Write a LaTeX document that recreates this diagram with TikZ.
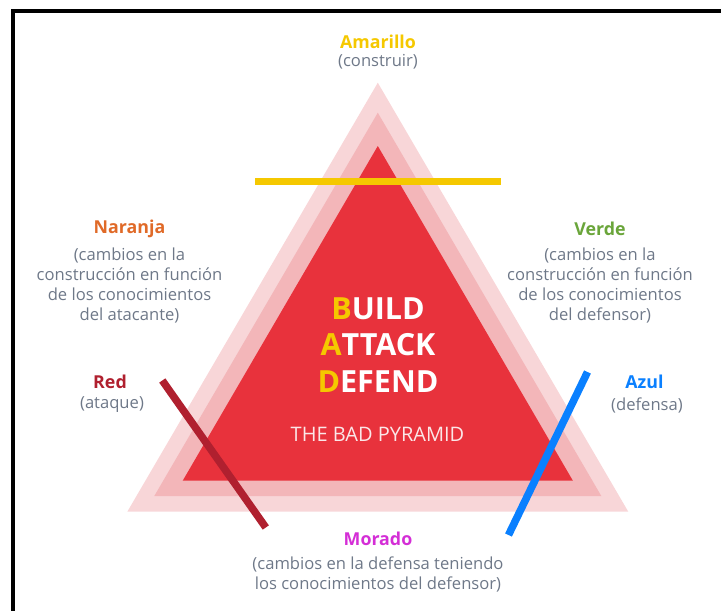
\documentclass[tikz,border=0pt]{standalone}
\usepackage{fontspec}
\setmainfont{Open Sans}
\usetikzlibrary{positioning}

\definecolor{pinkOuter}{HTML}{F8D6D8}
\definecolor{pinkMiddle}{HTML}{F3B6B9}
\definecolor{redInner}{HTML}{E8323C}
\definecolor{noteGray}{HTML}{6E7888}
\definecolor{amarilloCol}{HTML}{F5C800}
\definecolor{naranjaCol}{HTML}{E06A28}
\definecolor{verdeCol}{HTML}{6AA53A}
\definecolor{redCol}{HTML}{B0202F}
\definecolor{azulCol}{HTML}{0A80FF}
\definecolor{moradoCol}{HTML}{D42ED6}

\begin{document}
\begin{tikzpicture}[
        x=1pt, y=-1pt,
        head_style/.style={font=\fontsize{17.8}{20}\selectfont\bfseries},
        note_style/.style={text=noteGray, align=center, font=\fontsize{16.6}{20}\selectfont},
        bad_style/.style={text=white, align=center, font=\fontsize{30.5}{36.7}\selectfont\bfseries},
        bar_style/.style={line width=7.5pt}
    ]
        \useasboundingbox (0,0) rectangle (721,611);

        % Frame
        \draw[line width=4pt] (12.8,611) -- (12.8,10.5) -- (721,10.5);

        % Coordinates
        \coordinate (o_top) at (377.8,82.7);
        \coordinate (o_left) at (127.3,511.7);
        \coordinate (o_right) at (628.3,511.7);
        \coordinate (m_top) at (377.8,112.7);
        \coordinate (m_left) at (154.3,496);
        \coordinate (m_right) at (601.3,496);
        \coordinate (i_top) at (377.8,146);
        \coordinate (i_left) at (182.7,480.7);
        \coordinate (i_right) at (572.9,480.7);

        \coordinate (y1) at (255,181.3);
        \coordinate (y2) at (500.7,181.3);
        \coordinate (r1) at (162.3,380.5);
        \coordinate (r2) at (265.8,527.5);
        \coordinate (b1) at (587.5,372);
        \coordinate (b2) at (508.5,535);

        % Triangles
        \fill[pinkOuter] (o_top) -- (o_left) -- (o_right) -- cycle;
        \fill[pinkMiddle] (m_top) -- (m_left) -- (m_right) -- cycle;
        \fill[redInner] (i_top) -- (i_left) -- (i_right) -- cycle;

        % Bars
        \draw[bar_style, amarilloCol] (y1) -- (y2);
        \draw[bar_style, redCol] (r1) -- (r2);
        \draw[bar_style, azulCol] (b1) -- (b2);

        % Center text
        \node[bad_style] (bad) at (378,345) {\textcolor{amarilloCol}{B}UILD\\\textcolor{amarilloCol}{A}TTACK\\\textcolor{amarilloCol}{D}EFEND};
        \node[text=pinkOuter!60!white, font=\fontsize{20}{22}\selectfont] (pyramid) at (377.5,434) {THE BAD PYRAMID};

        % Labels
        \node[head_style, text=amarilloCol] (amarillo) at (378,42) {Amarillo};
        \node[note_style] (amarillo_note) at (378,62) {(construir)};

        \node[head_style, text=naranjaCol] (naranja) at (129.5,229) {Naranja};
        \node[note_style] (naranja_note) at (129.5,285.5) {(cambios en la\\construcción en función\\de los conocimientos\\del atacante)};

        \node[head_style, text=verdeCol] (verde) at (600,229) {Verde};
        \node[note_style] (verde_note) at (600,285.5) {(cambios en la\\construcción en función\\de los conocimientos\\del defensor)};

        \node[head_style, text=redCol] (red) at (110,382) {Red};
        \node[note_style] (red_note) at (112,405) {(ataque)};

        \node[head_style, text=azulCol] (azul) at (644.5,382) {Azul};
        \node[note_style] (azul_note) at (647,405) {(defensa)};

        \node[head_style, text=moradoCol] (morado) at (378,539) {Morado};
        \node[note_style] (morado_note) at (378,574) {(cambios en la defensa teniendo\\los conocimientos del defensor)};
    \end{tikzpicture}
\end{document}
